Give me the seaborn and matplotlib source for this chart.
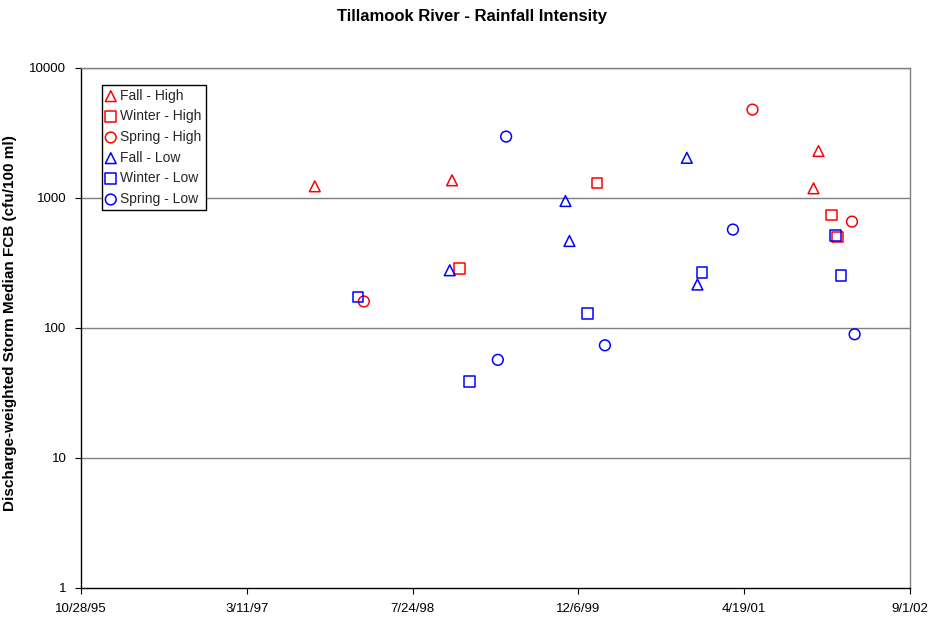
import matplotlib
matplotlib.use("Agg")
import matplotlib.pyplot as plt
import seaborn as sns
import pandas as pd
import numpy as np

# ---- data -------------------------------------------------------------
fall_high_dates = ["1997-10-02", "1998-11-20", "2001-11-14", "2001-11-29"]
fall_high_vals = [1230, 1368, 1187, 2299]

winter_high_dates = ["1998-12-12", "2000-01-31", "2002-01-07", "2002-01-25"]
winter_high_vals = [286, 1304, 740, 501]

spring_high_dates = ["1998-02-27", "2001-05-14", "2002-03-10"]
spring_high_vals = [160, 4786, 658]

fall_low_dates = ["1998-11-13", "1999-10-28", "1999-11-09", "2000-10-28", "2000-11-29"]
fall_low_vals = [278, 948, 467, 2037, 216]

winter_low_dates = ["1998-02-09", "1999-01-12", "2000-01-03", "2000-12-13",
                    "2002-01-20", "2002-02-05"]
winter_low_vals = [173, 38.7, 129, 266, 517, 253]

spring_low_dates = ["1999-04-07", "1999-05-02", "2000-02-24", "2001-03-16", "2002-03-18"]
spring_low_vals = [56.9, 2967, 73.6, 572, 89.5]

series_names = ["Fall - High", "Winter - High", "Spring - High",
                "Fall - Low", "Winter - Low", "Spring - Low"]

x_tick_labels = ["10/28/95", "3/11/97", "7/24/98", "12/6/99", "4/19/01", "9/1/02"]
y_ticks = [1, 10, 100, 1000, 10000]

# ---- styling ----------------------------------------------------------
sns.set_theme(style="white")
plt.rcParams["font.family"] = ["Liberation Sans", "DejaVu Sans"]

series = [
    (fall_high_dates, fall_high_vals, "^", "#ff0000"),
    (winter_high_dates, winter_high_vals, "s", "#ff0000"),
    (spring_high_dates, spring_high_vals, "o", "#ff0000"),
    (fall_low_dates, fall_low_vals, "^", "#0000ff"),
    (winter_low_dates, winter_low_vals, "s", "#0000ff"),
    (spring_low_dates, spring_low_vals, "o", "#0000ff"),
]

fig = plt.figure(figsize=(9.32, 6.22), dpi=100)
ax = fig.add_axes([81 / 932, 1 - 588 / 622, 829 / 932, 520 / 622])

for (dates, vals, marker, color), name in zip(series, series_names):
    df = pd.DataFrame({"date": pd.to_datetime(dates), "value": vals})
    sns.scatterplot(data=df, x="date", y="value", marker=marker, s=60,
                    facecolors="none", edgecolor=color, linewidth=1.1,
                    label=name, ax=ax, zorder=3)
    coll = ax.collections[-1]
    coll.set_facecolor("none")
    coll.set_edgecolor(color)

# ---- axes -------------------------------------------------------------
ax.set_yscale("log")
ax.set_ylim(1, 10000)
ax.set_yticks(y_ticks)
ax.set_yticklabels([str(v) for v in y_ticks])
ax.yaxis.set_minor_locator(matplotlib.ticker.NullLocator())

tick_dates = pd.to_datetime(x_tick_labels, format="%m/%d/%y")
ax.set_xlim(tick_dates[0], tick_dates[-1])
ax.set_xticks(tick_dates)
ax.set_xticklabels(x_tick_labels)

ax.tick_params(axis="both", which="major", direction="out", length=4,
               width=0.8, color="black", labelsize=9.5, labelcolor="black")
ax.tick_params(axis="y", pad=6.5)
ax.tick_params(axis="x", pad=7)
ax.tick_params(axis="x", bottom=True)
ax.tick_params(axis="y", left=True)

for y in y_ticks[1:]:
    ax.axhline(y, color="#808080", linewidth=1.0, zorder=1)

ax.spines["left"].set_color("black")
ax.spines["bottom"].set_color("black")
ax.spines["top"].set_color("#808080")
ax.spines["right"].set_color("#808080")
for sp in ax.spines.values():
    sp.set_linewidth(1.0)
    sp.set_visible(True)

ax.set_xlabel("")
ax.set_ylabel("Discharge-weighted Storm Median FCB (cfu/100 ml)",
              fontsize=11, fontweight="bold", color="black")
ax.yaxis.set_label_coords(-0.077, 0.51)

fig.text(472.5 / 932, 1 - 17 / 622, "Tillamook River - Rainfall Intensity",
         ha="center", va="center", fontsize=12, fontweight="bold", color="black")

leg = ax.legend(loc="upper left", bbox_to_anchor=(0.025, 0.968), frameon=True,
                fancybox=False, framealpha=1, edgecolor="black",
                fontsize=10, handlelength=0.7, handletextpad=0.35,
                borderpad=0.3, labelspacing=0.48, borderaxespad=0)
leg.get_frame().set_linewidth(1.0)

fig.savefig("out.png", dpi=100)
